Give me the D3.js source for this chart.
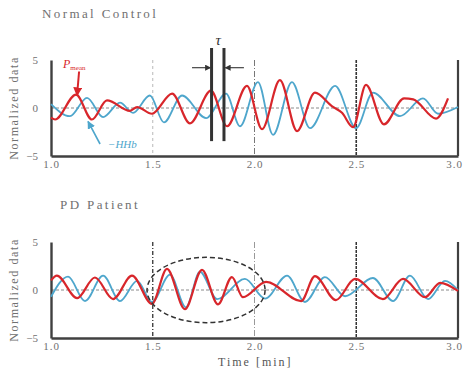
<!DOCTYPE html>
<html>
<head>
<meta charset="utf-8">
<script src="https://cdn.jsdelivr.net/npm/d3@7"></script>
<style>
  body { margin: 0; background: #fff; }
  text { font-family: "Liberation Serif", "DejaVu Serif", serif; }
</style>
</head>
<body>
<div id="chart-container"></div>
<script>
// time [min] and normalized values
const xTicks = [1.0, 1.5, 2.0, 2.5, 3.0];
const yTicks = [-5, 0, 5];
const panelTitles = ["Normal Control", "PD Patient"];

const normalPmean = [
  [1.0, -1.0], [1.02, -1.2], [1.123, 1.4], [1.201, -1.2], [1.275, 0.8], [1.388, -0.3],
  [1.423, 0.1], [1.496, -0.6], [1.595, 1.5], [1.683, -1.6], [1.786, 1.8], [1.865, -1.9],
  [1.963, 2.3], [2.037, -2.2], [2.125, 2.9], [2.209, -2.4], [2.297, 1.6], [2.38, 0.2],
  [2.43, -0.5], [2.484, -2.0], [2.548, 2.4], [2.636, -1.7], [2.735, 1.0], [2.78, 0.9],
  [2.892, -1.1], [2.951, 1.0]
];
const normalHHb = [
  [1.0, 0.4], [1.093, -0.85], [1.177, 1.05], [1.256, -0.95], [1.339, 0.55], [1.403, -0.5],
  [1.486, 1.3], [1.555, -1.5], [1.644, 1.3], [1.762, -1.05], [1.86, 1.5], [1.929, -1.9],
  [2.017, 2.7], [2.091, -2.8], [2.184, 2.7], [2.273, -2.1], [2.396, 2.3], [2.499, -2.1],
  [2.582, 1.6], [2.715, -0.85], [2.828, 1.0], [2.902, -0.6], [3.0, 0.1]
];
const pdPmean = [
  [1.0, 1.0], [1.029, 1.5], [1.128, -0.85], [1.216, 1.3], [1.305, -0.95], [1.398, 1.5],
  [1.496, -1.45], [1.57, 2.2], [1.658, -2.0], [1.742, 2.1], [1.821, -1.5], [1.889, 1.35],
  [1.943, -0.75], [2.057, 0.85], [2.229, -1.15], [2.297, 1.45], [2.4, -1.05], [2.494, 1.15],
  [2.631, -0.95], [2.73, 1.15], [2.838, -0.75], [2.912, 0.75], [3.0, -0.1]
];
const pdHHb = [
  [1.0, -0.7], [1.084, 1.4], [1.167, -1.15], [1.256, 1.5], [1.339, -1.15], [1.423, 0.95],
  [1.496, -1.25], [1.585, 1.6], [1.663, -1.8], [1.732, 1.9], [1.816, -0.95], [1.953, 1.15],
  [2.052, -0.9], [2.16, 1.5], [2.248, -1.25], [2.346, 1.35], [2.445, -0.65], [2.582, 1.25],
  [2.681, -1.15], [2.764, 1.5], [2.853, -0.95], [2.936, 0.95], [3.0, 0.0]
];

const width = 466;
const height = 374;
const red = "#d8262b";
const blue = "#4ea6cc";
const axisColor = "#404040";
const textColor = "#707070";

const svg = d3
  .select("#chart-container")
  .append("svg")
  .attr("width", width)
  .attr("height", height)
  .style("background", "#fff");

const defs = svg.append("defs");
const marker = (id, color, w, h) => {
  defs
    .append("marker")
    .attr("id", id)
    .attr("viewBox", "0 0 10 10")
    .attr("refX", 9)
    .attr("refY", 5)
    .attr("markerUnits", "userSpaceOnUse")
    .attr("markerWidth", w)
    .attr("markerHeight", h)
    .attr("orient", "auto")
    .append("path")
    .attr("d", "M0,0L10,5L0,10Z")
    .attr("fill", color);
};
marker("head-red", red, 9, 9);
marker("head-blue", blue, 8, 8);
marker("head-dark", "#333", 7, 6);

const xScale = d3.scaleLinear().domain([1, 3]).range([51, 458]);

const panels = [
  {
    title: panelTitles[0], titleX: 42, titleY: 18, top: 60, bottom: 156,
    pmean: normalPmean, hhb: normalHHb,
    grid: [
      { t: 1.5, color: "#b8b8b8", w: 1, dash: "3,3" },
      { t: 2.0, color: "#777", w: 1, dash: "6,2,1,2" },
      { t: 2.5, color: "#333", w: 1.6, dash: "3,1" }
    ]
  },
  {
    title: panelTitles[1], titleX: 60, titleY: 209, top: 242, bottom: 338,
    pmean: pdPmean, hhb: pdHHb,
    grid: [
      { t: 1.5, color: "#333", w: 1.3, dash: "4,2,1,2" },
      { t: 2.0, color: "#999", w: 1, dash: "6,2,1,2" },
      { t: 2.5, color: "#333", w: 1.5, dash: "3,1" }
    ]
  }
];

const scales = panels.map(p => {
  const yScale = d3.scaleLinear().domain([-5, 5]).range([p.bottom, p.top]);
  const g = svg.append("g");

  g.selectAll(".grid")
    .data(p.grid)
    .enter()
    .append("line")
    .attr("x1", d => xScale(d.t))
    .attr("x2", d => xScale(d.t))
    .attr("y1", yScale(5))
    .attr("y2", yScale(-5))
    .attr("stroke", d => d.color)
    .attr("stroke-width", d => d.w)
    .attr("stroke-dasharray", d => d.dash);

  // zero reference
  g.append("line")
    .attr("x1", xScale(1))
    .attr("x2", xScale(3))
    .attr("y1", yScale(0))
    .attr("y2", yScale(0))
    .attr("stroke", "#8a8a8a")
    .attr("stroke-width", 1)
    .attr("stroke-dasharray", "3,2");

  // right frame
  g.append("line")
    .attr("x1", xScale(3))
    .attr("x2", xScale(3))
    .attr("y1", yScale(5))
    .attr("y2", yScale(-5))
    .attr("stroke", axisColor)
    .attr("stroke-width", 2.2);

  const xAxis = d3
    .axisBottom(xScale)
    .tickValues(xTicks)
    .tickFormat(d3.format(".1f"))
    .tickSize(0)
    .tickPadding(4);
  const yAxis = d3
    .axisLeft(yScale)
    .tickValues(yTicks)
    .tickSize(0)
    .tickPadding(13);

  g.append("g")
    .attr("transform", `translate(0, ${yScale(-5)})`)
    .call(xAxis)
    .call(a => a.select(".domain").attr("stroke", axisColor).attr("stroke-width", 2.4))
    .call(a => a.selectAll("text")
      .attr("fill", textColor)
      .attr("font-family", "Liberation Serif")
      .attr("font-size", 11)
      .attr("letter-spacing", 1)
      .attr("dx", d => (d === 3 ? -4 : 0)));

  g.append("g")
    .attr("transform", `translate(${xScale(1)}, 0)`)
    .call(yAxis)
    .call(a => a.select(".domain").attr("stroke", axisColor).attr("stroke-width", 2.4))
    .call(a => a.selectAll("text")
      .attr("fill", textColor)
      .attr("font-family", "Liberation Serif")
      .attr("font-size", 11));

  g.append("text")
    .text("Normalized data")
    .attr("transform", `translate(18, ${(p.top + p.bottom) / 2}) rotate(-90)`)
    .attr("text-anchor", "middle")
    .attr("font-size", 12)
    .attr("letter-spacing", 1.6)
    .attr("fill", textColor);

  g.append("text")
    .text(p.title)
    .attr("x", p.titleX)
    .attr("y", p.titleY)
    .attr("font-size", 13)
    .attr("letter-spacing", 2.4)
    .attr("fill", textColor);

  const line = d3
    .line()
    .x(d => xScale(d[0]))
    .y(d => yScale(d[1]))
    .curve(d3.curveMonotoneX);

  g.append("path")
    .datum(p.hhb)
    .attr("d", line)
    .attr("fill", "none")
    .attr("stroke", blue)
    .attr("stroke-width", 1.8);

  g.append("path")
    .datum(p.pmean)
    .attr("d", line)
    .attr("fill", "none")
    .attr("stroke", red)
    .attr("stroke-width", 2.2);

  return yScale;
});

const yTop = scales[0];
const yBottom = scales[1];

// Normal control annotations
const pLabel = svg.append("text")
  .attr("x", xScale(1.059))
  .attr("y", yTop(4.2))
  .attr("fill", red)
  .attr("font-size", 12)
  .attr("font-style", "italic");
pLabel.append("tspan").text("P");
pLabel.append("tspan").text("mean").attr("font-size", 7).attr("dy", 2).attr("font-style", "normal");

svg.append("line")
  .attr("x1", xScale(1.138)).attr("y1", yTop(3.8))
  .attr("x2", xScale(1.128)).attr("y2", yTop(1.3))
  .attr("stroke", red).attr("stroke-width", 2)
  .attr("marker-end", "url(#head-red)");

svg.append("text")
  .text("\u2212HHb")
  .attr("x", xScale(1.28))
  .attr("y", yTop(-4.2))
  .attr("fill", blue)
  .attr("font-size", 11)
  .attr("font-style", "italic");

svg.append("line")
  .attr("x1", xScale(1.241)).attr("y1", yTop(-3.75))
  .attr("x2", xScale(1.182)).attr("y2", yTop(-1.4))
  .attr("stroke", blue).attr("stroke-width", 1.6)
  .attr("marker-end", "url(#head-blue)");

// tau lag markers
const tauTimes = [1.789, 1.850];
svg.selectAll(".tau")
  .data(tauTimes)
  .enter()
  .append("line")
  .attr("x1", d => xScale(d))
  .attr("x2", d => xScale(d))
  .attr("y1", yTop(6.25))
  .attr("y2", yTop(-3.45))
  .attr("stroke", "#333")
  .attr("stroke-width", 3);

svg.append("line")
  .attr("x1", xScale(1.693)).attr("x2", xScale(1.784))
  .attr("y1", yTop(4.2)).attr("y2", yTop(4.2))
  .attr("stroke", "#444").attr("stroke-width", 1.2)
  .attr("marker-end", "url(#head-dark)");
svg.append("line")
  .attr("x1", xScale(1.948)).attr("x2", xScale(1.856))
  .attr("y1", yTop(4.2)).attr("y2", yTop(4.2))
  .attr("stroke", "#444").attr("stroke-width", 1.2)
  .attr("marker-end", "url(#head-dark)");

svg.append("text")
  .text("\u03c4")
  .attr("x", xScale(1.808))
  .attr("y", yTop(6.6))
  .attr("fill", "#333")
  .attr("font-size", 15)
  .attr("font-style", "italic");

// PD patient: highlighted region
const ell = { t: 1.762, v: 0, rt: 0.29, rv: 3.4 };
svg.append("ellipse")
  .attr("cx", xScale(ell.t))
  .attr("cy", yBottom(ell.v))
  .attr("rx", xScale(1 + ell.rt) - xScale(1))
  .attr("ry", yBottom(0) - yBottom(ell.rv))
  .attr("fill", "none")
  .attr("stroke", "#333")
  .attr("stroke-width", 1.5)
  .attr("stroke-dasharray", "5,3");

svg.append("text")
  .text("Time  [min]")
  .attr("x", 218)
  .attr("y", 366)
  .attr("font-size", 12)
  .attr("letter-spacing", 2)
  .attr("fill", "#555");
</script>
</body>
</html>
